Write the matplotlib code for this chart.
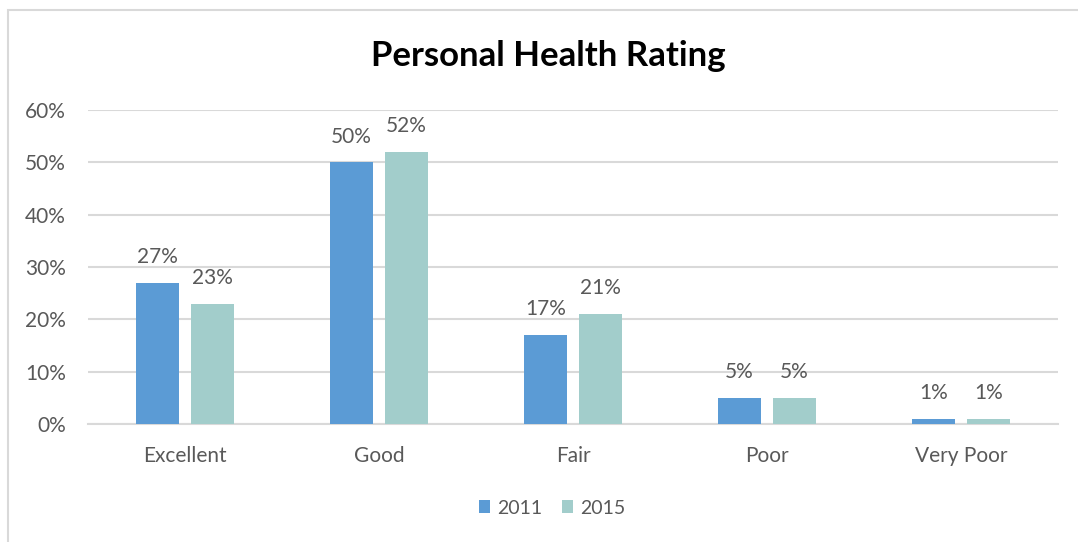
import matplotlib
matplotlib.use("Agg")
from matplotlib import pyplot as plt
from matplotlib.patches import Rectangle
import numpy as np

categories = ["Excellent", "Good", "Fair", "Poor", "Very Poor"]
years = ["2011", "2015"]
values_2011 = [27, 50, 17, 5, 1]
values_2015 = [23, 52, 21, 5, 1]
y_ticks = [0, 10, 20, 30, 40, 50, 60]

plt.rcParams['font.family'] = ['Lato', 'DejaVu Sans']
text_color = '#595959'
colors = ['#5B9BD5', '#A2CDCB']

fig = plt.figure(figsize=(10.78, 5.42), dpi=100)
ax = fig.add_axes([0.0816, 0.2177, 0.9, 0.5793])

# chart frame
fig.patches.append(Rectangle((8 / 1078, -0.1), 1.2, (532 + 0.1 * 542) / 542,
                             transform=fig.transFigure, fill=False,
                             edgecolor='#D9D9D9', linewidth=1.5))

x = np.arange(len(categories))
width = 0.222
offset = 0.142
for vals, label, color, sign in [(values_2011, years[0], colors[0], -1),
                                 (values_2015, years[1], colors[1], 1)]:
    bars = ax.bar(x + sign * offset, vals, width, color=color, label=label,
                  zorder=3)
    for b, v in zip(bars, vals):
        ax.text(b.get_x() + b.get_width() / 2, v + 3.0, f"{v}%",
                ha='center', va='bottom', fontsize=15, color=text_color)

ax.set_xlim(-0.5, len(categories) - 0.5)
ax.set_ylim(0, 60)
ax.set_yticks(y_ticks)
ax.set_yticklabels([f"{t}%" for t in y_ticks])
ax.set_xticks(x)
ax.set_xticklabels(categories)
ax.tick_params(axis='both', length=0, labelsize=15, colors=text_color)
ax.tick_params(axis='x', pad=16)
ax.tick_params(axis='y', pad=16)
ax.grid(axis='y', color='#D9D9D9', linewidth=1.5, zorder=0)
for side in ['top', 'right', 'left']:
    ax.spines[side].set_visible(False)
ax.spines['bottom'].set_color('#D9D9D9')
ax.spines['bottom'].set_linewidth(1.5)

fig.text(548 / 1078, 1 - 56 / 542, "Personal Health Rating", ha='center',
         va='center', fontsize=25, fontweight='bold', color='black')

leg = fig.legend(loc='center', bbox_to_anchor=(552 / 1078, 1 - 508 / 542),
                 ncol=2, frameon=False, fontsize=14, handlelength=0.6,
                 handleheight=0.6, columnspacing=1.0, handletextpad=0.35)
for t in leg.get_texts():
    t.set_color(text_color)

fig.savefig("out.png", dpi=100)
